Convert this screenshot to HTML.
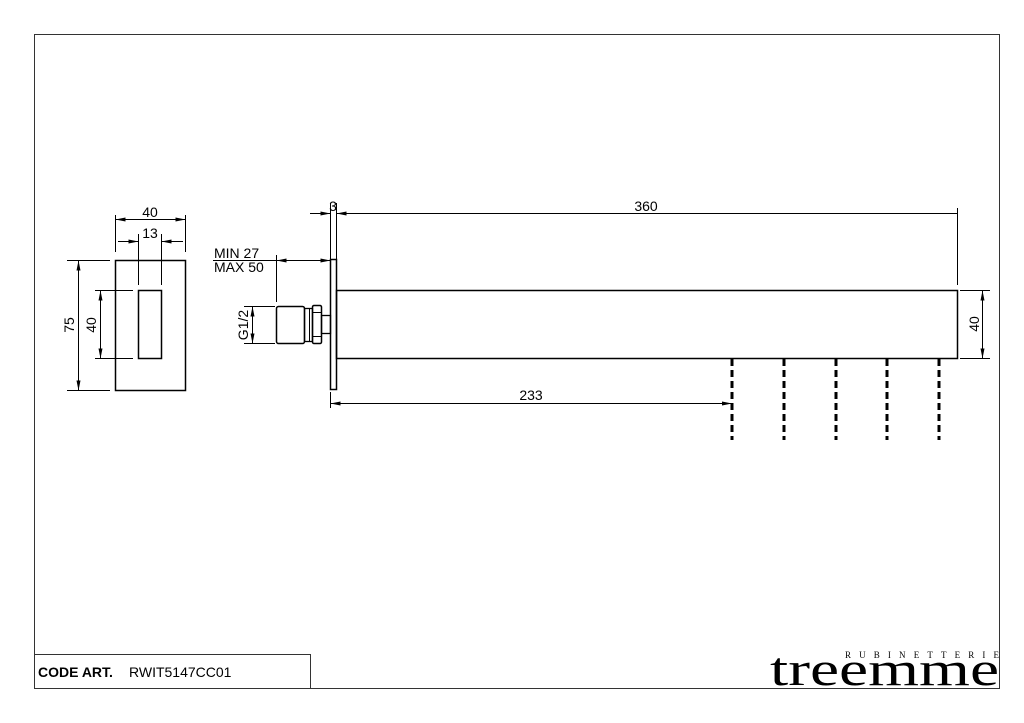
<!DOCTYPE html>
<html><head><meta charset="utf-8"><style>
html,body{margin:0;padding:0;background:#fff;}
svg{display:block;}
text{font-family:"Liberation Sans",sans-serif;fill:#000;}
</style></head><body>
<svg width="1024" height="723" viewBox="0 0 1024 723" xmlns="http://www.w3.org/2000/svg">
<defs>
<marker id="a" viewBox="0 0 10 4" refX="10" refY="2" markerWidth="10" markerHeight="4" markerUnits="userSpaceOnUse" orient="auto-start-reverse"><path d="M0,0 L10,2 L0,4 Z" fill="#000"/></marker>
</defs>
<g fill="none" stroke="#000" stroke-width="1">
<rect x="34.5" y="34.5" width="965" height="654" stroke="#333"/>
<rect x="34.5" y="654.5" width="276" height="34" stroke="#333"/>
<rect x="115.5" y="260.5" width="70" height="130" stroke-width="1.5"/>
<rect x="138.5" y="290.5" width="23" height="68" stroke-width="1.5"/>
<line x1="115.5" y1="215" x2="115.5" y2="252"/>
<line x1="185.5" y1="215" x2="185.5" y2="252"/>
<line x1="115.5" y1="219.5" x2="185.5" y2="219.5" marker-start="url(#a)" marker-end="url(#a)"/>
<line x1="138.5" y1="234" x2="138.5" y2="285"/>
<line x1="161.5" y1="234" x2="161.5" y2="285"/>
<line x1="118" y1="241.5" x2="138.5" y2="241.5" marker-end="url(#a)"/>
<line x1="183" y1="241.5" x2="161.5" y2="241.5" marker-end="url(#a)"/>
<line x1="67" y1="260.5" x2="110" y2="260.5"/>
<line x1="67" y1="390.5" x2="110" y2="390.5"/>
<line x1="78.5" y1="260.5" x2="78.5" y2="390.5" marker-start="url(#a)" marker-end="url(#a)"/>
<line x1="95" y1="290.5" x2="133" y2="290.5"/>
<line x1="95" y1="358.5" x2="133" y2="358.5"/>
<line x1="100.5" y1="290.5" x2="100.5" y2="358.5" marker-start="url(#a)" marker-end="url(#a)"/>
<rect x="330.5" y="259.5" width="6" height="130" stroke-width="1.5"/>
<rect x="336.5" y="290.5" width="621" height="68" stroke-width="1.5"/>
<rect x="276.5" y="306.5" width="28" height="37" rx="2" stroke-width="1.5"/>
<rect x="304.5" y="308.5" width="8" height="33" stroke-width="1.3"/>
<line x1="309.5" y1="308.5" x2="309.5" y2="341.5"/>
<rect x="312.5" y="305.5" width="9" height="38" rx="1.5" stroke-width="1.5"/>
<line x1="312.5" y1="312.5" x2="321.5" y2="312.5"/>
<line x1="312.5" y1="336.5" x2="321.5" y2="336.5"/>
<rect x="321.5" y="315.5" width="9" height="18" stroke-width="1.3"/>
<line x1="330.5" y1="203" x2="330.5" y2="259"/>
<line x1="336.5" y1="203" x2="336.5" y2="259"/>
<line x1="310" y1="213.5" x2="330.5" y2="213.5" marker-end="url(#a)"/>
<line x1="957.5" y1="213.5" x2="336.5" y2="213.5" marker-end="url(#a)"/>
<line x1="957.5" y1="208" x2="957.5" y2="285"/>
<line x1="213" y1="260.5" x2="330.5" y2="260.5" marker-end="url(#a)"/>
<line x1="300" y1="260.5" x2="276.5" y2="260.5" marker-end="url(#a)"/>
<line x1="276.5" y1="255" x2="276.5" y2="302"/>
<line x1="244" y1="306.5" x2="275" y2="306.5"/>
<line x1="244" y1="343.5" x2="275" y2="343.5"/>
<line x1="252.5" y1="306.5" x2="252.5" y2="343.5" marker-start="url(#a)" marker-end="url(#a)"/>
<line x1="330.5" y1="392" x2="330.5" y2="408"/>
<line x1="330.5" y1="403.5" x2="732" y2="403.5" marker-start="url(#a)" marker-end="url(#a)"/>
<line x1="960" y1="290.5" x2="990" y2="290.5"/>
<line x1="960" y1="358.5" x2="990" y2="358.5"/>
<line x1="982.5" y1="290.5" x2="982.5" y2="358.5" marker-start="url(#a)" marker-end="url(#a)"/>
<g stroke-width="3" stroke-dasharray="7,4">
<line x1="732" y1="359" x2="732" y2="440"/>
<line x1="784" y1="359" x2="784" y2="440"/>
<line x1="836" y1="359" x2="836" y2="440"/>
<line x1="887" y1="359" x2="887" y2="440"/>
<line x1="939" y1="359" x2="939" y2="440"/>
</g>
</g>
<g font-size="14">
<text x="150" y="217" text-anchor="middle">40</text>
<text x="150" y="238" text-anchor="middle">13</text>
<text x="74" y="325" text-anchor="middle" transform="rotate(-90 74 325)">75</text>
<text x="96" y="325" text-anchor="middle" transform="rotate(-90 96 325)">40</text>
<text x="333" y="211" text-anchor="middle">3</text>
<text x="646" y="211" text-anchor="middle">360</text>
<text x="214" y="258">MIN 27</text>
<text x="214" y="272">MAX 50</text>
<text x="248" y="325" text-anchor="middle" transform="rotate(-90 248 325)">G1/2</text>
<text x="531" y="400" text-anchor="middle">233</text>
<text x="979" y="324" text-anchor="middle" transform="rotate(-90 979 324)">40</text>
</g>
<text x="38" y="677" font-size="14" font-weight="bold">CODE ART.</text>
<text x="129" y="677" font-size="14">RWIT5147CC01</text>
<text x="845" y="658" font-size="9" textLength="154" lengthAdjust="spacing" style="font-family:'Liberation Serif',serif">RUBINETTERIE</text>
<text x="770" y="685" font-size="48" textLength="229" lengthAdjust="spacingAndGlyphs" style="font-family:'Liberation Serif',serif">treemme</text>
</svg>
</body></html>
